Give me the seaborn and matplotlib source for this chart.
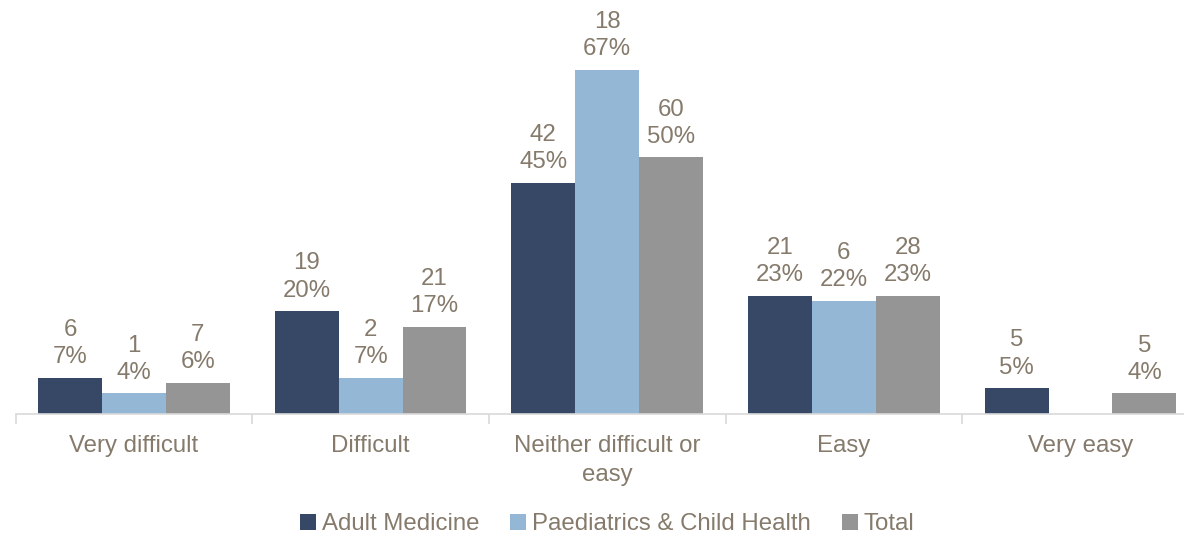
import matplotlib
matplotlib.use("Agg")
import matplotlib.pyplot as plt
import seaborn as sns
import pandas as pd
import numpy as np

categories = ["Very difficult", "Difficult", "Neither difficult or\neasy", "Easy", "Very easy"]
groups = ["Adult Medicine", "Paediatrics & Child Health", "Total"]

adult_counts = [6, 19, 42, 21, 5]
adult_pct = [7, 20, 45, 23, 5]
paeds_counts = [1, 2, 18, 6, 0]
paeds_pct = [4, 7, 67, 22, 0]
total_counts = [7, 21, 60, 28, 5]
total_pct = [6, 17, 50, 23, 4]

colors = ["#374866", "#95b7d6", "#959595"]
text_color = "#857a6b"
axis_color = "#d9d9d9"

rows = []
for g, cnts, pcts in zip(groups, [adult_counts, paeds_counts, total_counts],
                         [adult_pct, paeds_pct, total_pct]):
    for c, n, p in zip(categories, cnts, pcts):
        rows.append({"category": c, "group": g, "count": n, "pct": p})
df = pd.DataFrame(rows)

sns.set_theme(style="white")
plt.rcParams["font.family"] = ["Liberation Sans", "DejaVu Sans"]

fig = plt.figure(figsize=(11.84, 5.35), dpi=100)
ax = fig.add_axes([0.01326, 0.2262, 0.99924, 0.7551])

sns.barplot(data=df, x="category", y="pct", hue="group", order=categories,
            hue_order=groups, palette=colors, width=0.81, saturation=1,
            linewidth=0, errorbar=None, ax=ax)

fs = 17.3
for g, cont in zip(groups, ax.containers):
    sub = df[df["group"] == g].set_index("category").loc[categories]
    labels = [f"{n}\n{p}%" if n > 0 else "" for n, p in zip(sub["count"], sub["pct"])]
    ax.bar_label(cont, labels=labels, padding=7, fontsize=fs, color=text_color,
                 linespacing=1.3)

ax.set_xlim(-0.5, len(categories) - 0.5)
ax.set_ylim(0, 78.7)
ax.set_xlabel("")
ax.set_ylabel("")
ax.set_yticks([])
for s in ["top", "left", "right"]:
    ax.spines[s].set_visible(False)
ax.spines["bottom"].set_color(axis_color)
ax.spines["bottom"].set_linewidth(1.2)

ax.set_xticks(range(len(categories)))
ax.set_xticklabels(categories, fontsize=fs, color=text_color, linespacing=1.4)
ax.tick_params(axis="x", which="major", bottom=True, length=0, pad=15)
ax.set_xticks(np.arange(-0.5, len(categories), 1.0), minor=True)
ax.tick_params(axis="x", which="minor", bottom=True, length=7,
               color=axis_color, width=1.2)

handles, lbls = ax.get_legend_handles_labels()
leg = ax.legend(handles, lbls, loc="center", bbox_to_anchor=(0.5, -0.273),
                ncol=3, frameon=False, fontsize=fs, handlelength=0.65,
                handleheight=0.65, handletextpad=0.25, columnspacing=1.3,
                borderpad=0)
for t in leg.get_texts():
    t.set_color(text_color)

fig.savefig("out.png", dpi=100)
